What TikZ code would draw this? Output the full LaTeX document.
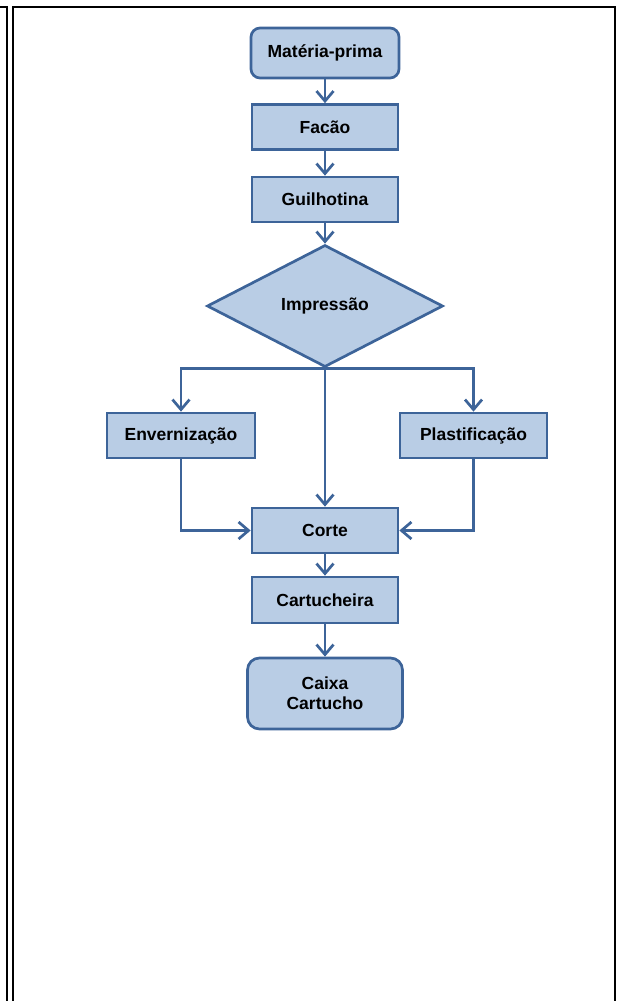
\documentclass[tikz,border=0pt]{standalone}
\usepackage{fontspec}
\setmainfont{Liberation Sans}
\usepackage{tikz}
\usetikzlibrary{shapes.geometric,arrows.meta,positioning}
\definecolor{etapafill}{RGB}{185,205,229}
\definecolor{etapaline}{RGB}{61,100,153}

\begin{document}
\begin{tikzpicture}[x=1pt,y=-1pt,
		etapa/.style={draw=etapaline,fill=etapafill,line width=2.7pt,minimum width=146pt,minimum height=45pt,inner sep=0pt,align=center,font=\fontsize{17.5}{20}\selectfont\bfseries},
		terminal/.style={etapa,rounded corners=9pt},
		decisao/.style={etapa,diamond,minimum width=236pt,minimum height=122pt},
		seta/.style={draw=etapaline,line width=2.7pt,-{Straight Barb[length=10pt,width=17pt]}}]
		\useasboundingbox (0,0) rectangle (616,1001);
		\draw[line width=2pt] (0,6.5)--(7,6.5)--(7,1001);
		\draw[line width=2pt] (13,1001)--(13,6.5)--(615,6.5)--(615,1001);
		% coluna principal
		\node[terminal,minimum width=148pt,minimum height=50pt] (mp) at (325,53) {Matéria-prima};
		\node[etapa] (facao) at (325,127) {Facão};
		\node[etapa] (guil) at (325,199.5) {Guilhotina};
		\node[decisao] (imp) at (325,306) {Impressão};
		\node[etapa,minimum width=148pt] (env) at (181,435.5) {Envernização};
		\node[etapa,minimum width=147pt] (plast) at (473.5,435.5) {Plastificação};
		\node[etapa] (corte) at (325,530.5) {Corte};
		\node[etapa,minimum height=46pt] (cart) at (325,600) {Cartucheira};
		\node[terminal,rounded corners=12pt,minimum width=155pt,minimum height=71pt] (caixa) at (325,693.5) {Caixa\\Cartucho};
		\draw[seta] (mp)--(facao);
		\draw[seta] (facao)--(guil);
		\draw[seta] (guil)--(imp);
		\draw[seta,{Straight Barb[length=10pt,width=17pt]}-{Straight Barb[length=10pt,width=17pt]}] (env.north) |- (imp.south) -| (plast.north);
		\draw[seta] (imp.south)--(corte);
		\draw[seta] (env.south) |- (corte.west);
		\draw[seta] (plast.south) |- (corte.east);
		\draw[seta] (corte)--(cart);
		\draw[seta] (cart)--(caixa);
	\end{tikzpicture}
\end{document}
